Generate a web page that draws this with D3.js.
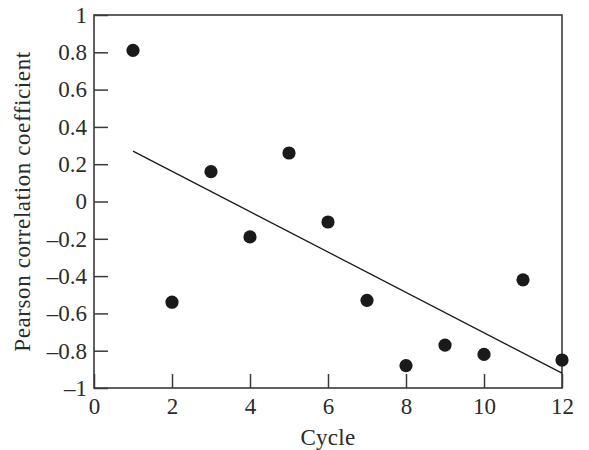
<!DOCTYPE html>
<html>
<head>
<meta charset="utf-8">
<script src="https://cdn.jsdelivr.net/npm/d3@7"></script>
<style>
  body { margin: 0; background: #fff; }
  #chart text { font-family: "Liberation Serif", serif; fill: #2b2b2b; }
</style>
</head>
<body>
<div id="chart"></div>
<script>
// Dados
var cycles = [1, 2, 3, 4, 5, 6, 7, 8, 9, 10, 11, 12];
var pearson = [0.81, -0.54, 0.16, -0.19, 0.26, -0.11, -0.53, -0.88, -0.77, -0.82, -0.42, -0.85];
var trendX = [1, 12];
var trendY = [0.27, -0.92];
var xTicks = [0, 2, 4, 6, 8, 10, 12];
var yTicks = [-1, -0.8, -0.6, -0.4, -0.2, 0, 0.2, 0.4, 0.6, 0.8, 1];

function drawChart() {
  var W = 589, H = 450;
  var margin = {top: 15, right: 27, bottom: 62, left: 94},
      width = W - margin.left - margin.right,
      height = H - margin.top - margin.bottom;

  var svg = d3.select("#chart")
    .append("svg")
      .attr("width", W)
      .attr("height", H)
    .append("g")
      .attr("transform", "translate(" + margin.left + "," + margin.top + ")");

  var x = d3.scaleLinear().domain([0, 12]).range([0, width]);
  var y = d3.scaleLinear().domain([-1, 1]).range([height, 0]);

  // formato com travessão no lugar do sinal de menos
  var fmt = function (d) { return d < 0 ? "\u2013" + Math.abs(d) : String(d); };

  // Eixo X (ticks para dentro)
  var gx = svg.append("g")
    .attr("transform", "translate(0," + height + ")")
    .call(d3.axisBottom(x).tickValues(xTicks).tickFormat(fmt)
      .tickSizeInner(-14).tickSizeOuter(0).tickPadding(10));

  // Eixo Y
  var gy = svg.append("g")
    .call(d3.axisLeft(y).tickValues(yTicks).tickFormat(fmt)
      .tickSizeInner(-14).tickSizeOuter(0).tickPadding(7));

  [gx, gy].forEach(function (g) {
    g.select(".domain").remove();
    g.selectAll(".tick line").attr("stroke", "#3a3a3a").attr("stroke-width", 1.5);
    g.selectAll(".tick text").style("font-size", "23px").attr("fill", "#2b2b2b");
  });

  // Moldura
  svg.append("rect")
    .attr("x", 0).attr("y", 0)
    .attr("width", width).attr("height", height)
    .attr("fill", "none")
    .attr("stroke", "#3a3a3a")
    .attr("stroke-width", 1.6);

  // Linha de tendência
  svg.append("line")
    .attr("x1", x(trendX[0])).attr("y1", y(trendY[0]))
    .attr("x2", x(trendX[1])).attr("y2", y(trendY[1]))
    .attr("stroke", "#1a1a1a")
    .attr("stroke-width", 1.3);

  // Pontos
  svg.append("g")
    .selectAll("circle")
    .data(cycles)
    .enter()
    .append("circle")
      .attr("cx", function (d) { return x(d); })
      .attr("cy", function (d, i) { return y(pearson[i]); })
      .attr("r", 6.6)
      .style("fill", "#1a1a1a");

  // Rótulos dos eixos
  svg.append("text")
    .attr("x", width / 2)
    .attr("y", height + 57)
    .attr("text-anchor", "middle")
    .style("font-size", "23px")
    .style("letter-spacing", "0.3px")
    .text("Cycle");

  svg.append("text")
    .attr("transform", "translate(" + (-64) + "," + (height / 2) + ") rotate(-90)")
    .attr("text-anchor", "middle")
    .style("font-size", "23px")
    .style("letter-spacing", "0.6px")
    .text("Pearson correlation coefficient");
}

document.addEventListener("DOMContentLoaded", function () {
  drawChart();
});
</script>
</body>
</html>
